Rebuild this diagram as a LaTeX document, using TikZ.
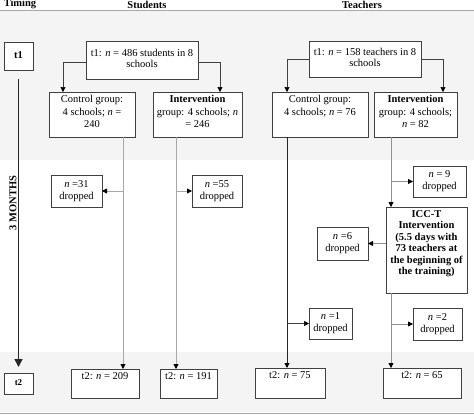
\documentclass[tikz,border=0pt]{standalone}
\usepackage{fontspec}
\setmainfont{Liberation Serif}
\usetikzlibrary{arrows.meta,calc}
\definecolor{band}{HTML}{F4F4F4}
\definecolor{boxline}{HTML}{404040}
\definecolor{lline}{HTML}{A8A8A8}
\definecolor{tline}{HTML}{909090}
\tikzset{
  box/.style={draw=boxline, line width=0.7pt, fill=white, inner sep=2pt, outer sep=0pt},
  arr/.style={-{Triangle[length=5pt,width=5pt,color=black]}},
  hdr/.style={font=\fontsize{10.5}{12}\selectfont\bfseries, inner sep=0pt},
}
% opts, name, x1, y1, x2, y2, inner pos, text, baselineskip
\newcommand\bx[9]{%
  \node[box,#1,minimum width={(#5-#3)*1pt},minimum height={(#6-#4)*1pt}] (#2) at ({(#3+#5)/2},{(#4+#6)/2})
  {\parbox[c][\dimexpr #6pt-#4pt-4pt\relax][#7]{\dimexpr #5pt-#3pt-4pt\relax}{\fontsize{10.5}{#9}\selectfont\centering\strut #8\strut}};}
\begin{document}
\begin{tikzpicture}[x=1pt,y=-1pt]
\useasboundingbox (0,0) rectangle (474,418);
% bands
\fill[band] (0,10) rectangle (474,160);
\fill[band] (0,352) rectangle (474,412);
\draw[lline, line width=0.6pt] (0,10) -- (474,10);
\draw[lline, line width=1.8pt] (0,413.5) -- (474,413.5);
% header
\node[hdr] (hT) at (20,4.5) {Timing};
\node[hdr] (hS) at (147,4.5) {Students};
\node[hdr] (hR) at (362,4.5) {Teachers};
% timing column
\bx{}{t1}{4}{42}{33}{70}{c}{\bfseries t1}{12}
\bx{}{t2}{4}{373}{33}{394}{c}{\bfseries\fontsize{9}{11}\selectfont t2}{12}
\draw[black!85, line width=1.6pt, -{Triangle[length=8pt,width=8pt]}] ([yshift=-9pt]t1.south) -- ([yshift=6pt]t2.north);
\node[hdr, rotate=90] (mo) at (13,203) {3 MONTHS};
% students
\bx{}{s1}{86}{41}{198}{79}{c}{t1: \textit{n} = 486 students in 8\\schools}{10.5}
\bx{}{cs}{49}{92}{135}{137}{t}{Control group:\\4 schools; \textit{n} =\\240}{12.5}
\bx{}{is}{153}{92}{242}{137}{t}{\textbf{Intervention}\\group: 4 schools; \textit{n}\\= 246}{12.5}
\bx{}{d31}{51}{175}{102}{207}{c}{\textit{n} =31\\dropped}{12.5}
\bx{}{d55}{192}{175}{242}{207}{c}{\textit{n} =55\\dropped}{12.5}
\bx{}{sa}{71}{369}{139}{398}{t}{t2: \textit{n} = 209}{12}
\bx{}{sb}{160}{369}{217}{398}{t}{t2: \textit{n} = 191}{12}
% teachers
\bx{}{r1}{309}{41}{421}{77}{c}{t1: \textit{n} = 158 teachers in 8\\schools}{10.5}
\bx{}{ct}{272}{92}{368}{137}{t}{Control group:\\4 schools; \textit{n} = 76}{12.5}
\bx{}{it}{374}{92}{457}{137}{t}{\textbf{Intervention}\\group: 4 schools;\\\textit{n} = 82}{12.5}
\bx{}{d9}{413}{166}{466}{197}{c}{\textit{n} = 9\\dropped}{12}
\bx{}{icc}{386}{207}{467}{293}{t}{\bfseries ICC-T\\Intervention\\(5.5 days with\\73 teachers at\\the beginning of\\the training)}{11.5}
\bx{}{d6}{317}{227}{368}{260}{c}{\textit{n} =6\\dropped}{12}
\bx{}{d1}{309}{308}{352}{339}{c}{\textit{n} =1\\dropped}{12}
\bx{}{d2}{413}{308}{462}{340}{c}{\textit{n} =2\\dropped}{12}
\bx{}{ta}{255}{368}{325}{398}{t}{t2: \textit{n} = 75}{12}
\bx{}{tb}{383}{368}{461}{398}{t}{t2: \textit{n} = 65}{12}
% student connectors
\draw[black!75, line width=0.6pt, arr] ([yshift=-2pt]s1.west) -| ([xshift=-29pt]cs.north);
\draw[black!75, line width=0.6pt, arr] ([yshift=-2pt]s1.east) -| ([xshift=22.5pt]is.north);
\draw[lline, line width=0.8pt, arr] ([xshift=31pt]cs.south) -- ([xshift=31pt]cs.south |- sa.north);
\draw[lline, line width=0.8pt, arr] ([xshift=-21.5pt]is.south) -- ([xshift=-21.5pt]is.south |- sb.north);
\draw[lline, line width=0.8pt, arr] ([xshift=31pt]cs.south |- d31.east) -- (d31.east);
\draw[lline, line width=0.8pt, arr] ([xshift=-21.5pt]is.south |- d55.west) -- (d55.west);
% teacher connectors
\draw[black!75, line width=0.6pt, arr] (r1.west) -| ([xshift=-33pt]ct.north);
\draw[black!75, line width=0.6pt, arr] (r1.east) -| ([xshift=27.5pt]it.north);
\draw[black!85, line width=0.9pt, arr] ([xshift=-33pt]ct.south) -- ([xshift=-33pt]ct.south |- ta.north);
\draw[black!75, line width=0.6pt, arr] ([xshift=-33pt]ct.south |- d1.west) -- (d1.west);
\draw[tline, line width=0.8pt, arr] ([xshift=-24.5pt]it.south) -- ([xshift=-24.5pt]it.south |- icc.north);
\draw[tline, line width=0.8pt, arr] ([xshift=-24.5pt]it.south |- d9.west) -- (d9.west);
\draw[tline, line width=0.8pt, arr] (icc.west |- d6.east) -- (d6.east);
\draw[tline, line width=0.8pt, arr] ([xshift=-24.5pt]it.south |- icc.south) -- ([xshift=-24.5pt]it.south |- tb.north);
\draw[tline, line width=0.8pt, arr] ([xshift=-24.5pt]it.south |- d2.west) -- (d2.west);
\end{tikzpicture}
\end{document}
